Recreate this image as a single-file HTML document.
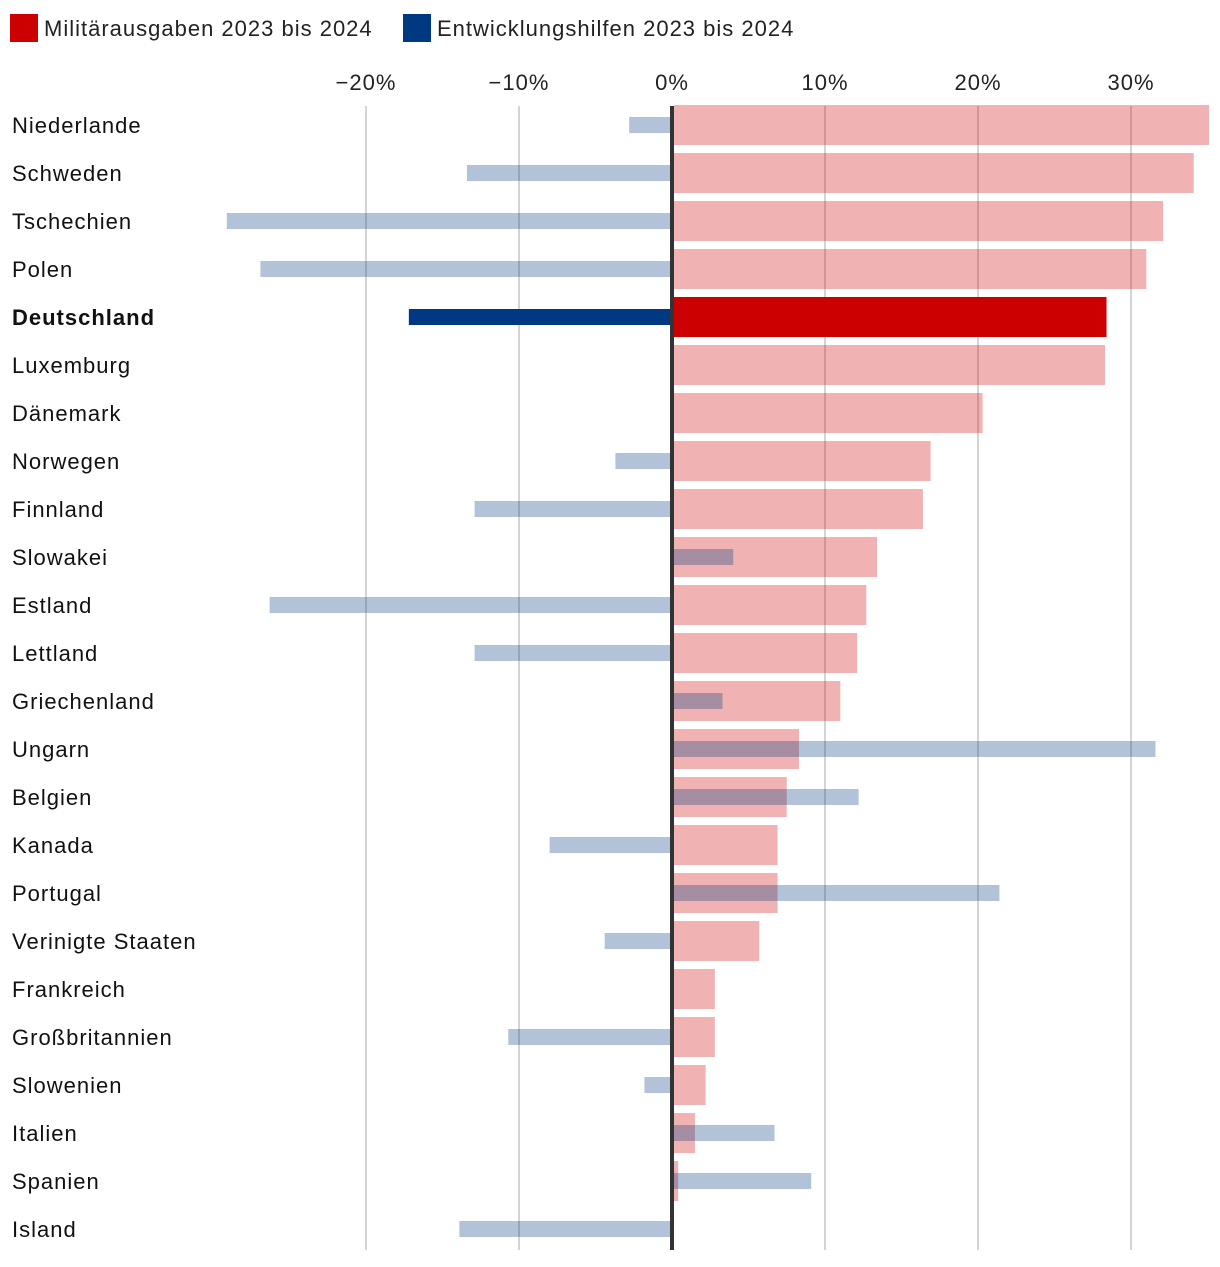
<!DOCTYPE html>
<html><head><meta charset="utf-8"><style>
body{margin:0;background:#fff;width:1220px;height:1262px;overflow:hidden;font-family:"Liberation Sans",sans-serif;}
text{letter-spacing:1px;}
</style></head><body>
<svg id="chart" width="1220" height="1262" xmlns="http://www.w3.org/2000/svg" font-family="'Liberation Sans',sans-serif">
<g>
<rect x="10" y="14" width="28" height="28" fill="#cc0000"/>
<text x="44" y="36" font-size="22" fill="#222">Militärausgaben 2023 bis 2024</text>
<rect x="403" y="14" width="28" height="28" fill="#003882"/>
<text x="437" y="36" font-size="22" fill="#222">Entwicklungshilfen 2023 bis 2024</text>
</g>
<g id="grid"></g><g id="bars"></g><g id="labels"></g>
</svg>
<script>
const countries=["Niederlande","Schweden","Tschechien","Polen","Deutschland","Luxemburg","Dänemark","Norwegen","Finnland","Slowakei","Estland","Lettland","Griechenland","Ungarn","Belgien","Kanada","Portugal","Verinigte Staaten","Frankreich","Großbritannien","Slowenien","Italien","Spanien","Island"];
const military=[35.1,34.1,32.1,31.0,28.4,28.3,20.3,16.9,16.4,13.4,12.7,12.1,11.0,8.3,7.5,6.9,6.9,5.7,2.8,2.8,2.2,1.5,0.4,0];
const aid=[-2.8,-13.4,-29.1,-26.9,-17.2,0,0,-3.7,-12.9,4.0,-26.3,-12.9,3.3,31.6,12.2,-8.0,21.4,-4.4,0,-10.7,-1.8,6.7,9.1,-13.9];
const ticks=[-20,-10,0,10,20,30];
const tickLabels=["−20%","−10%","0%","10%","20%","30%"];
const highlight="Deutschland";
const NS="http://www.w3.org/2000/svg";
const x=v=>672+v*15.3;
const y=i=>125+i*48;
function mk(tag,attrs,parent){const e=document.createElementNS(NS,tag);for(const k in attrs)e.setAttribute(k,attrs[k]);document.getElementById(parent).appendChild(e);return e;}
ticks.forEach((t,i)=>{
 if(t!==0){const l=mk('line',{x1:x(t),x2:x(t),y1:106,y2:1250,stroke:'#d4d4d4','stroke-width':2},'grid');
 
 }
 const tx=mk('text',{x:x(t),y:90,'font-size':22,'text-anchor':'middle',fill:'#222'},'grid');
 tx.textContent=tickLabels[i];
 
 
});
countries.forEach((c,i)=>{
 const hl=c===highlight;
 const m=military[i];
 if(m>0){const r=mk('rect',{x:674,y:y(i)-20,width:Math.max(0,x(m)-674),height:40,fill:hl?'#cc0000':'rgba(204,0,0,0.3)'},'bars');
 
 }
 const a=aid[i];
 if(a!==0){const x0=a<0?x(a):672;const w=Math.abs(x(a)-672);
 const b=mk('rect',{x:x0,y:y(i)-8,width:w,height:16,fill:hl?'#003882':'rgba(0,56,130,0.3)'},'bars');
 
 }
 const t=mk('text',{x:12,y:y(i)+8,'font-size':22,fill:'#111','font-weight':hl?'bold':'normal'},'labels');
 t.textContent=c;
 
 
});
const z=mk('line',{x1:672,x2:672,y1:106,y2:1250,stroke:'#333','stroke-width':4},'bars');


</script>
</body></html>
